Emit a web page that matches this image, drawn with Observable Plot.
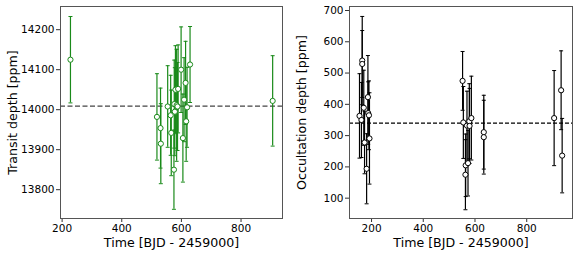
<!DOCTYPE html>
<html><head><meta charset="utf-8">
<script src="https://cdn.jsdelivr.net/npm/d3@7"></script>
<script src="https://cdn.jsdelivr.net/npm/@observablehq/plot@0.6"></script>
<style>
body{margin:0;background:#fff;}
#wrap{display:flex;width:577px;height:255px;}
svg{font-family:"DejaVu Sans",sans-serif;overflow:visible;}
</style></head><body><div id="wrap"></div>
<script>
// Transit depth (left panel)
const transitTime = [228,518,530,531,554,564,566,575,576,578,580,584,587,589,599,605,609,614,616,619,629,906];
const transitDepth = [14125,13982,13954,13915,14008,13986,13942,13850,14014,13995,14050,14011,14008,14052,14100,13929,14025,14067,13971,14006,14113,14022];
const transitErr = [108,108,100,100,102,100,107,99,110,110,110,140,110,110,107,110,105,104,100,100,95,113];
const transitMean = 14009;

// Occultation depth (right panel)
const occTime = [153.5,161,164,164,170,173,181,186,187,190,192,552,555,563,564,569,573,578,579,586,634,634,906,933,937];
const occDepth = [363,350,540,529,389,278,194,423,372,365,291,475,342,175,205,332,212,346,331,356,311,295,356,445,236];
const occErr = [135,120,141,107,120,100,112,133,100,110,146,94,115,112,100,110,105,120,120,134,118,118,152,126,119];
const occMean = 340;

const xTicks = [200,400,600,800];
const transitTicks = [13800,13900,14000,14100,14200];
const occTicks = [100,200,300,400,500,600,700];
const xLabel = "Time [BJD - 2459000]";

const cap = {draw(ctx, size){ const r = 2; ctx.moveTo(-r,0); ctx.lineTo(r,0); }};

function panel({time, val, err, mean, color, lineColor, dash, dashW, yTicks, yLabel, xDomain, yDomain, width, ml, mr}){
  const data = time.map((t,i)=>({t, v: val[i], lo: val[i]-err[i], hi: val[i]+err[i]}));
  return Plot.plot({
    width, height: 255,
    marginLeft: ml, marginRight: mr, marginTop: 6, marginBottom: 37,
    style: {fontSize: "10.5px", fontFamily: "DejaVu Sans, sans-serif", color: "#000", overflow: "visible"},
    x: {domain: xDomain, ticks: xTicks, tickFormat: d=>String(d), label: null},
    y: {domain: yDomain, ticks: yTicks, tickFormat: d=>String(d), label: null},
    marks: [
      Plot.axisX({ticks: xTicks, tickSize: 4, tickPadding: 2, tickFormat: d=>String(d), label: null, stroke: "#333"}),
      Plot.axisY({ticks: yTicks, tickSize: 4, tickPadding: 2, tickFormat: d=>String(d), label: null, stroke: "#333"}),
      Plot.ruleY([mean], {stroke: lineColor, strokeDasharray: dash, strokeWidth: dashW}),
      Plot.ruleX(data, {x: "t", y1: "lo", y2: "hi", stroke: color, strokeWidth: 1.2}),
      Plot.dot(data, {x: "t", y: "lo", symbol: cap, stroke: color, strokeWidth: 1, r: 2}),
      Plot.dot(data, {x: "t", y: "hi", symbol: cap, stroke: color, strokeWidth: 1, r: 2}),
      Plot.dot(data, {x: "t", y: "v", r: 2.6, fill: "white", stroke: color, strokeWidth: 1}),
      Plot.frame({stroke: "#555", strokeWidth: 1}),
      Plot.text([xLabel], {frameAnchor: "bottom", textAnchor: "middle", lineAnchor: "middle", dy: 24.7, fontSize: 12.6, fill: "#000"}),
      Plot.text([yLabel], {frameAnchor: "left", textAnchor: "middle", lineAnchor: "middle", dx: -48, rotate: -90, fontSize: 12.6, fill: "#000"})
    ]
  });
}

const wrap = document.getElementById("wrap");
wrap.appendChild(panel({
  time: transitTime, val: transitDepth, err: transitErr, mean: transitMean,
  color: "#1a8a1a", lineColor: "#444", dash: "5,2.5", dashW: 1.4,
  yTicks: transitTicks, yLabel: "Transit depth [ppm]",
  xDomain: [194.6, 939], yDomain: [13728, 14258], width: 288, ml: 60, mr: 6
}));
wrap.appendChild(panel({
  time: occTime, val: occDepth, err: occErr, mean: occMean,
  color: "#000", lineColor: "#000", dash: "4,2", dashW: 1.1,
  yTicks: occTicks, yLabel: "Occultation depth [ppm]",
  xDomain: [114.8, 977], yDomain: [35, 712.8], width: 289, ml: 61, mr: 5
}));
</script></body></html>
